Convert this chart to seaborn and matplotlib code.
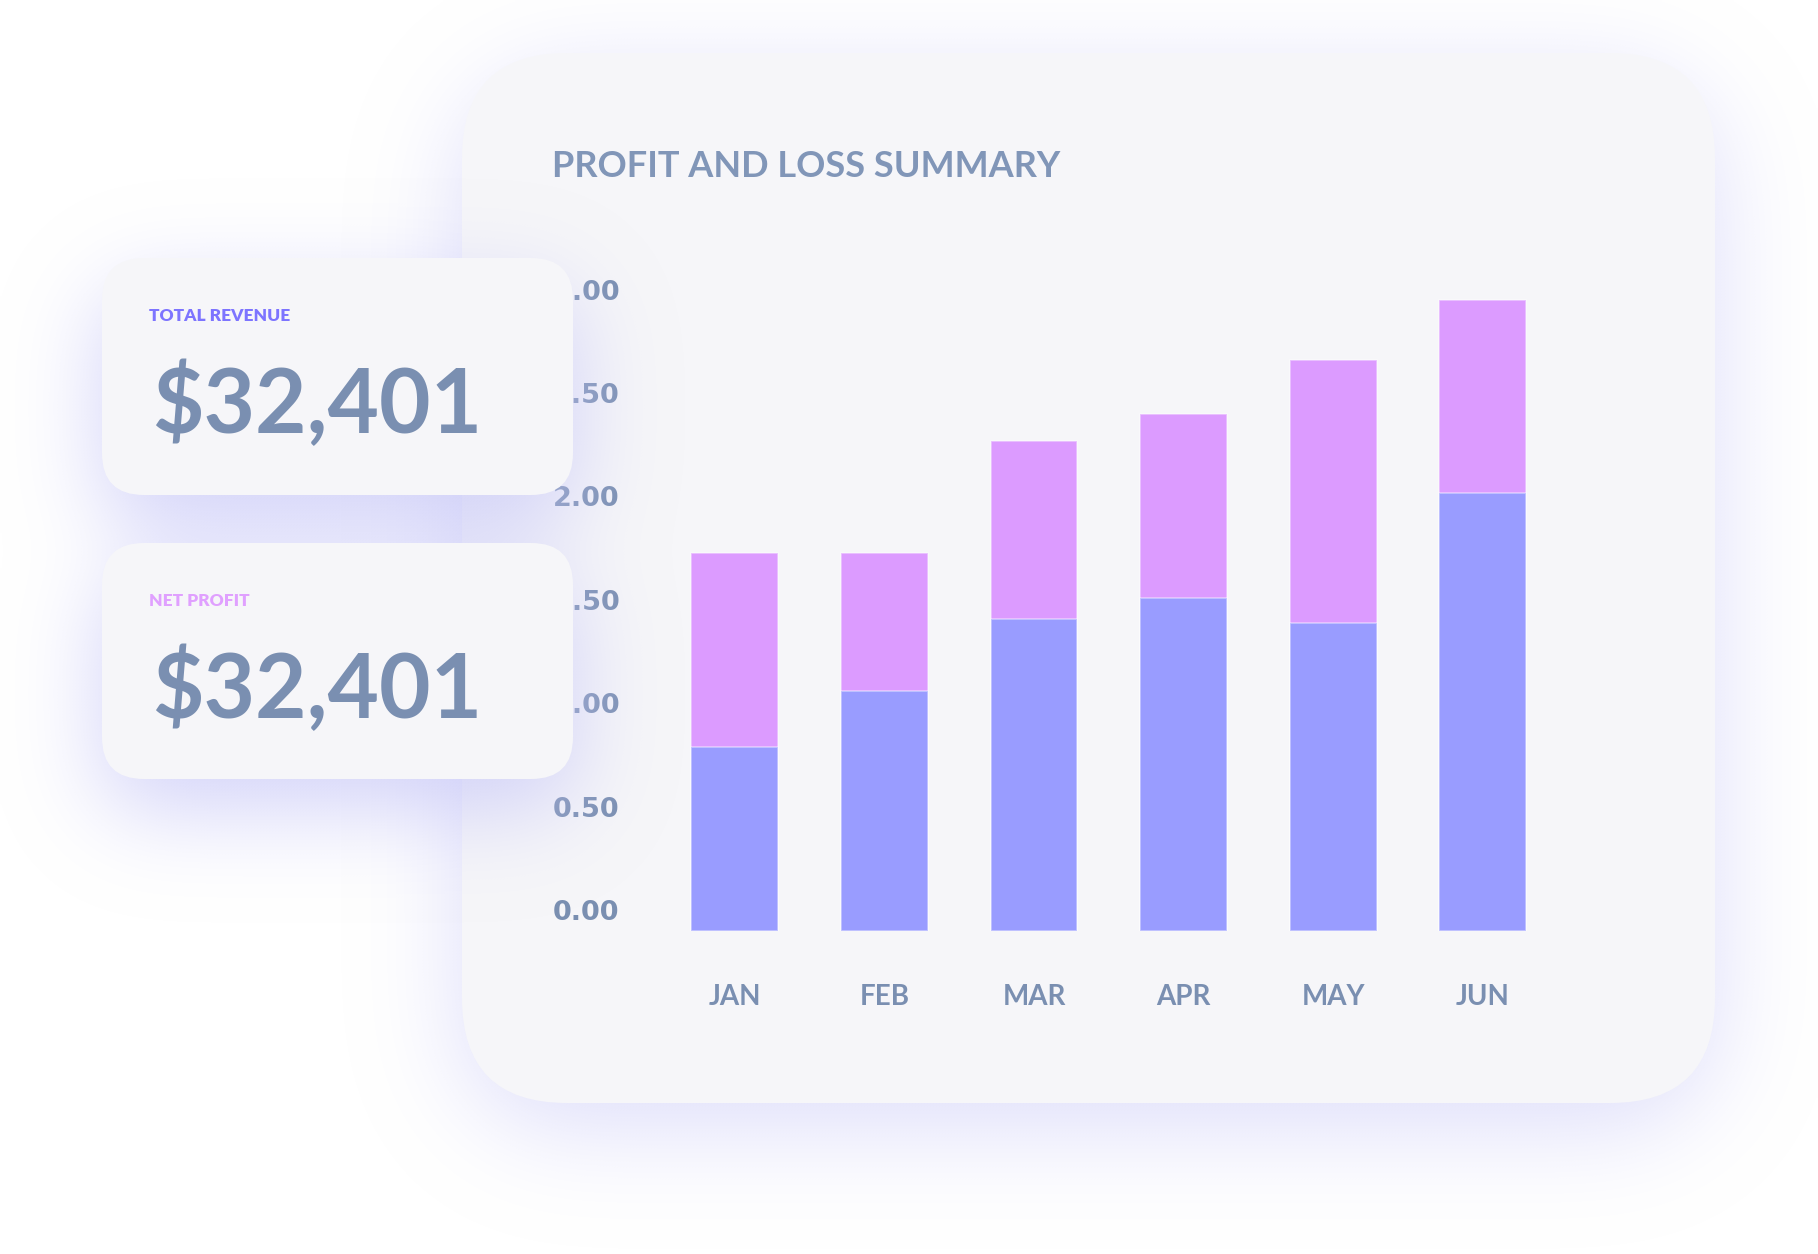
# Profit and loss summary dashboard card
import numpy as np
import matplotlib.pyplot as plt
import seaborn as sns
from matplotlib.patches import FancyBboxPatch
from matplotlib.transforms import ScaledTranslation

# Data
months = ["JAN", "FEB", "MAR", "APR", "MAY", "JUN"]
revenue = [0.89, 1.16, 1.51, 1.61, 1.49, 2.12]
profit = [0.94, 0.67, 0.86, 0.89, 1.27, 0.93]
y_ticks = [0.0, 0.5, 1.0, 1.5, 2.0, 2.5, 3.0]
card_titles = ["TOTAL REVENUE", "NET PROFIT"]
card_values = ["$32,401", "$32,401"]

totals = [r + p for r, p in zip(revenue, profit)]

# Colours
blue = "#999cff"
purple = "#dc9bff"
card_face = "#f6f6f9"
text_col = "#7a8fb1"
label_cols = ["#7d74ff", "#e0a0ff"]

W, H = 1818, 1254

sns.set_theme(style="white")
plt.rcParams["font.family"] = ["Lato", "DejaVu Sans"]

fig = plt.figure(figsize=(W / 100, H / 100), dpi=100, facecolor="white")


def card_mask(box, r, dy, step=3):
    x0, y0, x1, y1 = box
    gx = np.arange(0, W, step) + step / 2
    gy = np.arange(0, H, step) + step / 2
    X, Y = np.meshgrid(gx, gy)
    cx, cy = (x0 + x1) / 2, (y0 + y1) / 2 + dy
    ddx = np.clip(np.abs(X - cx) - ((x1 - x0) / 2 - r), 0, None)
    ddy = np.clip(np.abs(Y - cy) - ((y1 - y0) / 2 - r), 0, None)
    return (ddx ** 2 + ddy ** 2 <= r ** 2).astype(float)


def blur(a, sigma):
    n = int(3 * sigma)
    k = np.exp(-0.5 * (np.arange(-n, n + 1) / sigma) ** 2)
    k /= k.sum()
    a = np.apply_along_axis(np.convolve, 0, a, k, mode="same")
    a = np.apply_along_axis(np.convolve, 1, a, k, mode="same")
    return a


def glow(ax, boxes, r, dy, sigma, strength, color):
    m = np.clip(sum(card_mask(b, r, dy) for b in boxes), 0, 1)
    a = blur(m, sigma / 3) * strength
    img = np.zeros(m.shape + (4,))
    img[..., :3] = np.array(color) / 255
    img[..., 3] = np.clip(a, 0, 1)
    ax.imshow(img, extent=(0, W, H, 0), interpolation="bilinear", aspect="auto", zorder=0)


def rounded(ax, box, r):
    x0, y0, x1, y1 = box
    ax.add_patch(FancyBboxPatch((x0, y0), x1 - x0, y1 - y0,
                                boxstyle=f"round,pad=0,rounding_size={r}",
                                facecolor=card_face, edgecolor="none", zorder=1))


# Background layer: main card and its glow
main_box = (462, 53, 1715, 1103)
bg_ax = fig.add_axes([0, 0, 1, 1], zorder=0)
glow(bg_ax, [main_box], 105, 25, 50, 0.6, (200, 200, 248))
rounded(bg_ax, main_box, 105)
bg_ax.text(552, 177, "PROFIT AND LOSS SUMMARY", fontsize=26, fontweight="bold",
           color="#8196b8", va="baseline", ha="left")
bg_ax.set_xlim(0, W)
bg_ax.set_ylim(H, 0)
bg_ax.axis("off")

# Chart layer
ax = fig.add_axes([660 / W, (H - 931) / H, 897.6 / W, 3.1 * 206.8 / H], zorder=1)
ax.patch.set_alpha(0)
sns.barplot(x=months, y=totals, color=purple, width=0.58, saturation=1,
            edgecolor=(1, 1, 1, 0.45), linewidth=1.2, ax=ax)
sns.barplot(x=months, y=revenue, color=blue, width=0.58, saturation=1,
            edgecolor=(1, 1, 1, 0.45), linewidth=1.2, ax=ax)
ax.set_xlim(-0.5, 5.5)
ax.set_ylim(0, 3.1)
ax.set_yticks(y_ticks)
ax.set_yticklabels([f"{v:.2f}" for v in y_ticks])
ax.set_xlabel("")
ax.set_ylabel("")
ax.tick_params(axis="both", length=0, labelsize=20, labelcolor=text_col)
ax.tick_params(axis="y", pad=29)
ax.tick_params(axis="x", pad=38)
for lab in ax.get_xticklabels():
    lab.set_fontweight("bold")
for lab in ax.get_yticklabels():
    lab.set_fontweight("bold")
    lab.set_fontfamily("DejaVu Sans")
    lab.set_fontsize(19.5)
    lab.set_transform(lab.get_transform() + ScaledTranslation(0, 0.21, fig.dpi_scale_trans))
for s in ax.spines.values():
    s.set_visible(False)
ax.grid(False)

# Front layer: KPI cards
mini_boxes = [(102, 258, 573, 495), (102, 543, 573, 779)]
fr_ax = fig.add_axes([0, 0, 1, 1], zorder=2)
fr_ax.patch.set_alpha(0)
glow(fr_ax, mini_boxes, 42, 32, 45, 0.8, (200, 200, 248))
for box, title, value, col in zip(mini_boxes, card_titles, card_values, label_cols):
    rounded(fr_ax, box, 42)
    fr_ax.text(box[0] + 47, box[1] + 63, title, fontsize=12.5, fontweight="heavy",
               color=col, va="baseline", ha="left", zorder=2)
    fr_ax.text(box[0] + 50, box[1] + 175, value, fontsize=64, fontweight="bold",
               color=text_col, va="baseline", ha="left", zorder=2)
fr_ax.set_xlim(0, W)
fr_ax.set_ylim(H, 0)
fr_ax.axis("off")

fig.savefig("out.png", dpi=100, facecolor="white")
